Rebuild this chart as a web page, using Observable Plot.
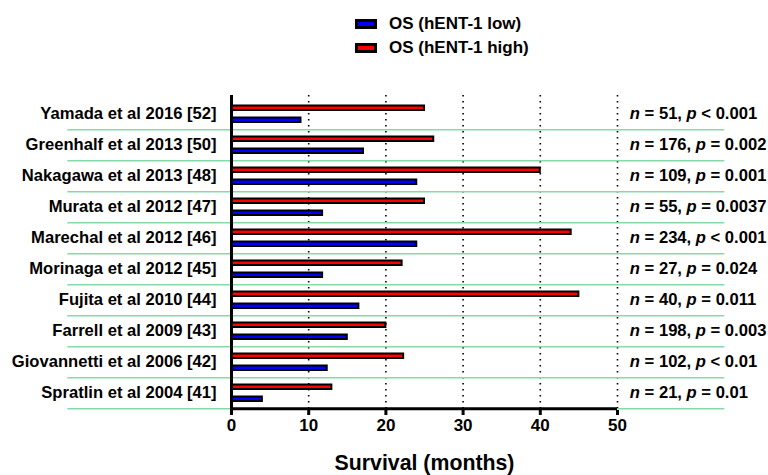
<!DOCTYPE html>
<html>
<head>
<meta charset="utf-8">
<script src="https://cdn.jsdelivr.net/npm/d3@7"></script>
<script src="https://cdn.jsdelivr.net/npm/@observablehq/plot@0.6"></script>
<style>
  html, body { margin: 0; padding: 0; background: #fff; }
  #wrap { position: relative; width: 768px; height: 475px; font-family: "Liberation Sans", Arial, sans-serif; color: #000; }
  #legend { position: relative; width: 768px; height: 70px; }
  .item { position: absolute; left: 355px; height: 24px; display: flex; align-items: center; font-weight: bold; font-size: 17px; }
  .swatch { width: 16px; height: 4px; border: 3px solid #000; margin-right: 12px; }
  svg { display: block; }
</style>
</head>
<body>
<div id="wrap">
  <div id="legend"></div>
  <div id="chart"></div>
</div>
<script>
const studies = [
  "Yamada et al 2016 [52]",
  "Greenhalf et al 2013 [50]",
  "Nakagawa et al 2013 [48]",
  "Murata et al 2012 [47]",
  "Marechal et al 2012 [46]",
  "Morinaga et al 2012 [45]",
  "Fujita et al 2010 [44]",
  "Farrell et al 2009 [43]",
  "Giovannetti et al 2006 [42]",
  "Spratlin et al 2004 [41]"
];
const osLow  = [9, 17.1, 24, 11.8, 24, 11.8, 16.5, 15, 12.4, 4];
const osHigh = [25, 26.2, 40, 25, 44, 22.1, 45, 20, 22.3, 13];
const nValues = [51, 176, 109, 55, 234, 27, 40, 198, 102, 21];
const pValues = ["< 0.001", "= 0.002", "= 0.001", "= 0.0037", "< 0.001", "= 0.024", "= 0.011", "= 0.003", "< 0.01", "= 0.01"];
const seriesNames = ["OS (hENT-1 low)", "OS (hENT-1 high)"];
const seriesColors = ["#0000ff", "#ff0000"];
const xTicks = [0, 10, 20, 30, 40, 50];
const gridTicks = [10, 20, 30, 40, 50];

// legend
const legend = document.getElementById("legend");
seriesNames.forEach((name, i) => {
  const it = document.createElement("div");
  it.className = "item";
  it.style.top = (12 + i * 24) + "px";
  const sw = document.createElement("div");
  sw.className = "swatch";
  sw.style.background = seriesColors[i];
  it.appendChild(sw);
  const tx = document.createElement("span");
  tx.textContent = name;
  it.appendChild(tx);
  legend.appendChild(it);
});

const rows = studies.map((s, i) => ({study: s, low: osLow[i], high: osHigh[i], n: nValues[i], p: pValues[i]}));

const H = 405, mTop = 25, mBottom = 65;
const bw = (H - mTop - mBottom) / studies.length;
const green = "#86d9a8";
const fs = 16.6;

const chart = Plot.plot({
  width: 768,
  height: H,
  marginLeft: 231,
  marginRight: 151,
  marginTop: mTop,
  marginBottom: mBottom,
  style: {fontFamily: "'Liberation Sans', Arial, sans-serif", color: "#000", background: "#fff"},
  x: {domain: [0, 50]},
  y: {domain: studies, padding: 0},
  marks: [
    Plot.ruleX(gridTicks, {stroke: "#000", strokeWidth: 1.6, strokeDasharray: "1.6,4.4"}),
    Plot.ruleY(rows, {y: "study", dy: bw / 2, x1: -21.2, x2: 63.9, stroke: green, strokeWidth: 1.5}),
    Plot.barX(rows, {y: "study", x: "high", fill: seriesColors[1], stroke: "#000", strokeWidth: 2, insetTop: 7.5, insetBottom: bw - 12.5}),
    Plot.barX(rows, {y: "study", x: "low", fill: seriesColors[0], stroke: "#000", strokeWidth: 2, insetTop: 19.5, insetBottom: bw - 24.5}),
    Plot.ruleX([0], {stroke: "#000", strokeWidth: 3}),
    Plot.ruleY([studies[studies.length - 1]], {dy: bw / 2, x1: 0, x2: 50, stroke: "#000", strokeWidth: 3}),
    Plot.axisX({ticks: xTicks, tickSize: 5, tickPadding: 3, strokeWidth: 3, fontSize: 17, fontWeight: "bold", label: null}),
    Plot.axisY({tickSize: 0, tickPadding: 15, fontSize: fs, fontWeight: "bold", label: null}),
    Plot.text(rows, {y: "study", x: 51.6, text: d => `n = ${d.n}, p ${d.p}`, textAnchor: "start", fontSize: fs, fontWeight: "bold", fill: "#000"}),
    Plot.text(["Survival (months)"], {frameAnchor: "bottom", lineAnchor: "middle", dy: 53, fontSize: 21.3, fontWeight: "bold", fill: "#000"})
  ]
});
document.getElementById("chart").appendChild(chart);

// italicise n and p in the annotations
d3.select(chart).selectAll("text").each(function() {
  const t = this.textContent;
  const m = /^n = (\d+), p (.+)$/.exec(t);
  if (!m) return;
  const sel = d3.select(this);
  sel.text(null);
  sel.append("tspan").attr("font-style", "italic").text("n");
  sel.append("tspan").text(` = ${m[1]}, `);
  sel.append("tspan").attr("font-style", "italic").text("p");
  sel.append("tspan").text(` ${m[2]}`);
});
</script>
</body>
</html>
